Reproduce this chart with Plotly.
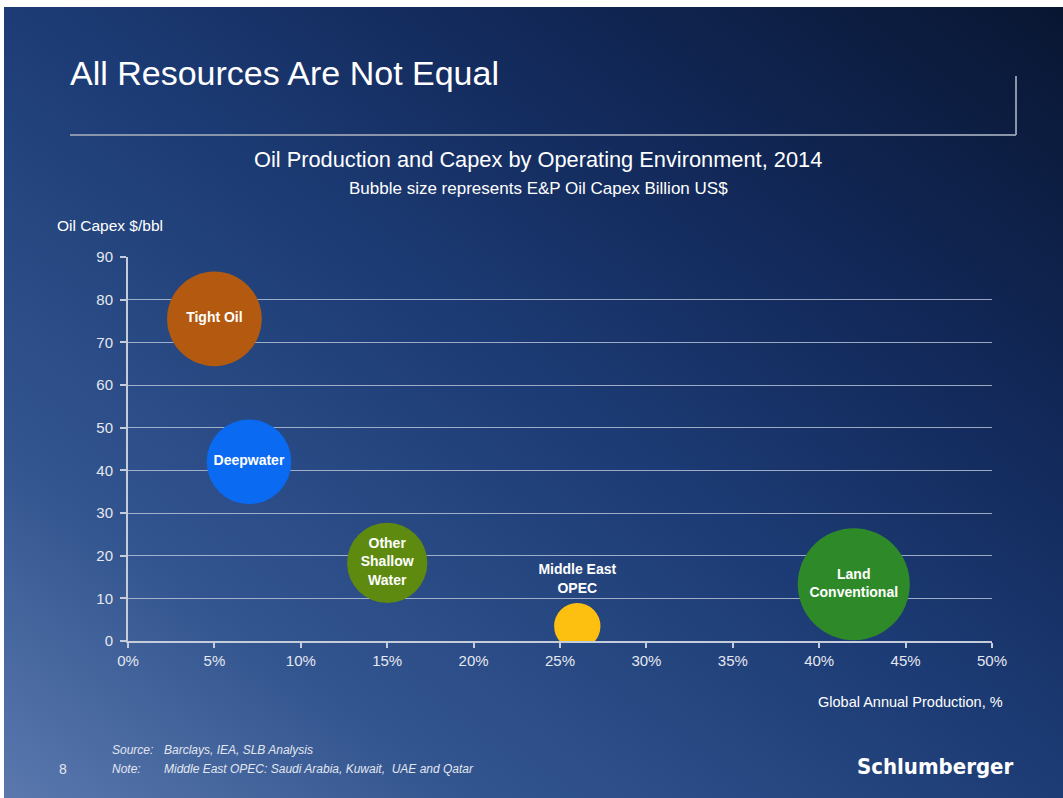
import base64
import plotly.graph_objects as go

# ---- data ----
environments = ["Tight Oil", "Deepwater", "Other Shallow Water", "Middle East OPEC", "Land Conventional"]
labels = ["Tight Oil", "Deepwater", "Other<br>Shallow<br>Water", "Middle East<br>OPEC", "Land<br>Conventional"]
production_pct = [5, 7, 15, 26, 42]          # Global annual production, %
capex_per_bbl = [75.5, 42, 18.3, 3.5, 13.3]    # Oil capex $/bbl
capex_billion = [125, 100, 90, 30, 175]      # bubble size: E&P oil capex, billion US$
colors = ["#b35a10", "#0a6af2", "#5e8a0f", "#fdc010", "#2e8a28"]
text_positions = ["middle center", "middle center", "middle center", "top center", "middle center"]
x_ticks = [0, 5, 10, 15, 20, 25, 30, 35, 40, 45, 50]
y_ticks = [0, 10, 20, 30, 40, 50, 60, 70, 80, 90]

W, H = 1063, 798
L, R, T, B = 128, 992, 257, 641


def px(x):
    return (x - L) / (R - L)


def py(y):
    return (B - y) / (B - T)


FONT = "Liberation Sans, Arial, sans-serif"

fig = go.Figure()
fig.add_trace(go.Scatter(
    x=production_pct, y=capex_per_bbl, mode="markers+text",
    text=[f"<b>{t}</b>" for t in labels], textposition=text_positions,
    textfont=dict(family=FONT, size=14, color="white"),
    marker=dict(size=capex_billion, sizemode="area", sizeref=0.0279,
                color=colors, opacity=1, line=dict(width=0)),
    hovertext=environments, cliponaxis=True, showlegend=False,
))

# gradient background as svg
svg = f'''<svg xmlns="http://www.w3.org/2000/svg" width="1059" height="791" viewBox="0 0 1059 791" preserveAspectRatio="none">
<defs>
<linearGradient id="g" x1="0" y1="1" x2="1" y2="0">
<stop offset="0" stop-color="#5a78ae"/>
<stop offset="0.22" stop-color="#33558f"/>
<stop offset="0.5" stop-color="#1d3c76"/>
<stop offset="0.72" stop-color="#12295a"/>
<stop offset="1" stop-color="#091632"/>
</linearGradient>
</defs>
<rect x="0" y="0" width="1059" height="791" fill="url(#g)"/>
</svg>'''
src = "data:image/svg+xml;base64," + base64.b64encode(svg.encode()).decode()

fig.add_layout_image(dict(
    source=src, xref="paper", yref="paper",
    x=px(4), y=py(7), sizex=px(1063) - px(4), sizey=py(7) - py(798),
    xanchor="left", yanchor="top", sizing="stretch", layer="below",
))

LINE_C = "#8a95aa"
fig.add_shape(type="line", xref="paper", yref="paper", x0=px(70), x1=px(1016),
              y0=py(135), y1=py(135), line=dict(color=LINE_C, width=2))
fig.add_shape(type="line", xref="paper", yref="paper", x0=px(1016), x1=px(1016),
              y0=py(76), y1=py(135), line=dict(color=LINE_C, width=2))


def ann(text, x, y, size, xanchor="left", color="white", family=FONT):
    fig.add_annotation(text=text, xref="paper", yref="paper", x=px(x), y=py(y),
                       xanchor=xanchor, yanchor="middle", showarrow=False,
                       font=dict(family=family, size=size, color=color))


ann("All Resources Are Not Equal", 68, 73, 34)
ann("Oil Production and Capex by Operating Environment, 2014", 538, 159, 21.8, "center")
ann("Bubble size represents E&P Oil Capex Billion US$", 538, 188, 17, "center")
ann("Oil Capex $/bbl", 55, 225, 15.5)
ann("Global Annual Production, %", 1005, 702, 14.5, "right")
ann("<i>Source:</i>", 110, 750, 12, color="#e2e7f0")
ann("<i>Barclays, IEA, SLB Analysis</i>", 162, 750, 12, color="#e2e7f0")
ann("<i>Note:</i>", 110, 769, 12, color="#e2e7f0")
ann("<i>Middle East OPEC: Saudi Arabia, Kuwait,  UAE and Qatar</i>", 162, 769, 12, color="#e2e7f0")
ann("8", 57, 769, 14, color="#e2e7f0")
ann("<b>Schlumberger</b>", 1016, 766, 22, "right",
    family="DejaVu Sans Condensed, Liberation Sans Narrow, Arial Narrow, sans-serif")

AX_C = "#c5ccda"
fig.update_xaxes(range=[0, 50], tickvals=x_ticks, ticktext=[f"{v}%" for v in x_ticks],
                 showgrid=False, zeroline=False, showline=True, linecolor=AX_C, linewidth=2,
                 ticks="outside", ticklen=5, tickcolor=AX_C, tickwidth=1.5,
                 tickfont=dict(family=FONT, size=15, color="#e4e8f0"), fixedrange=True)
fig.update_yaxes(range=[0, 90], tickvals=y_ticks, showgrid=True, gridcolor="rgba(190,200,220,0.8)",
                 gridwidth=1.3, zeroline=False, showline=True, linecolor=AX_C, linewidth=2,
                 ticks="outside", ticklen=6, tickcolor=AX_C, tickwidth=1.5, ticklabelstandoff=4,
                 tickfont=dict(family=FONT, size=15, color="#e4e8f0"), fixedrange=True)

fig.update_layout(
    width=W, height=H, autosize=False,
    margin=dict(l=L, r=W - R, t=T, b=H - B, pad=0),
    paper_bgcolor="white", plot_bgcolor="rgba(0,0,0,0)",
    font=dict(family=FONT, color="white"),
    showlegend=False,
)

fig.write_html("out.html", config={"displayModeBar": False})
